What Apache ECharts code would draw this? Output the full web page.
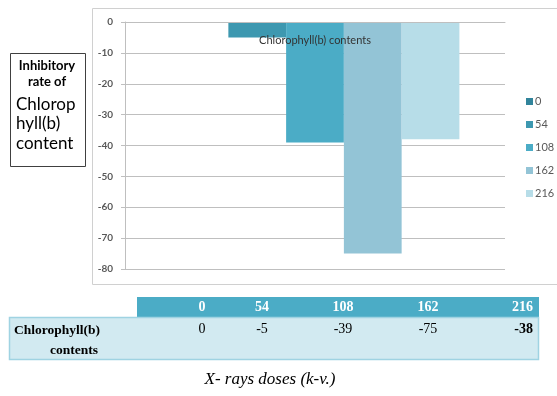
<!DOCTYPE html>
<html><head><meta charset="utf-8">
<script src="https://cdn.jsdelivr.net/npm/echarts@6/dist/echarts.min.js"></script>
<style>html,body{margin:0;padding:0;background:#fff}#c{width:557px;height:396px}</style>
</head><body><div id="c"></div>
<script>
const categories = ['Chlorophyll(b) contents'];
const doses = ['0', '54', '108', '162', '216'];
const values = [0, -5, -39, -75, -38];
const yTicks = [0, -10, -20, -30, -40, -50, -60, -70, -80];
const rowLabel = ['Chlorophyll(b)', 'contents'];
const xTitle = 'X- rays doses (k-v.)';
const yTitle = ['Inhibitory', 'rate of', 'Chlorop', 'hyll(b)', 'content'];

const colors = ['#31849B', '#3D98B0', '#4BACC6', '#93C4D6', '#B7DDE8'];
const colX = [202, 262, 343, 428, 533];

const chart = echarts.init(document.getElementById('c'));
const series = doses.map((d, i) => ({
  name: d, type: 'bar', data: [values[i]],
  barGap: '0%', barCategoryGap: '24%',
  itemStyle: { color: colors[i] }
}));

const graphic = [
  { type: 'rect', shape: { x: 92.5, y: 8.5, width: 470, height: 276 }, style: { fill: 'none', stroke: '#D0D0D0', lineWidth: 1 }, z: -1 },
  { type: 'rect', shape: { x: 10.5, y: 53.5, width: 75, height: 113 }, style: { fill: '#fff', stroke: '#404040', lineWidth: 1 } },
  { type: 'text', style: { x: 47, y: 59, text: yTitle[0], fill: '#000', font: 'bold 13px Lato', align: 'center' } },
  { type: 'text', style: { x: 47, y: 75, text: yTitle[1], fill: '#000', font: 'bold 13px Lato', align: 'center' } },
  { type: 'text', style: { x: 16, y: 96, text: yTitle[2], fill: '#000', font: '17px Lato', align: 'left' } },
  { type: 'text', style: { x: 16, y: 115, text: yTitle[3], fill: '#000', font: '17px Lato', align: 'left' } },
  { type: 'text', style: { x: 16, y: 135, text: yTitle[4], fill: '#000', font: '17px Lato', align: 'left' } },
  // table
  { type: 'rect', shape: { x: 137, y: 297, width: 402, height: 20 }, style: { fill: '#4BACC6' } },
  { type: 'rect', shape: { x: 9.5, y: 317.5, width: 529, height: 42 }, style: { fill: '#D2EAF1', stroke: '#9FD3E2', lineWidth: 1.5 } },
  { type: 'text', style: { x: 57, y: 324, text: rowLabel[0], fill: '#000', font: 'bold 13.5px "Liberation Serif"', align: 'center' } },
  { type: 'text', style: { x: 74, y: 344, text: rowLabel[1], fill: '#000', font: 'bold 13.5px "Liberation Serif"', align: 'center' } },
  { type: 'text', style: { x: 270, y: 371, text: xTitle, fill: '#000', font: 'italic 17px "Liberation Serif"', align: 'center' } }
];
doses.forEach((d, i) => {
  const last = i === doses.length - 1;
  graphic.push({ type: 'text', style: { x: colX[i], y: 300, text: d, fill: '#fff', font: 'bold 14px "Liberation Serif"', align: last ? 'right' : 'center' } });
  graphic.push({ type: 'text', style: { x: colX[i], y: 322, text: String(values[i]), fill: '#000', font: (last ? 'bold ' : '') + '14px "Liberation Serif"', align: last ? 'right' : 'center' } });
});

chart.setOption({
  animation: false,
  color: colors,
  grid: { left: 125, right: 52, top: 22, bottom: 127, containLabel: false },
  legend: {
    orient: 'vertical', left: 521, top: 91, itemWidth: 7, itemHeight: 7, itemGap: 12,
    icon: 'rect', data: doses,
    textStyle: { fontSize: 11, color: '#595959', fontFamily: 'Lato', padding: [0, 0, 0, -3] }
  },
  xAxis: {
    type: 'category', data: categories, z: 10, position: 'top',
    axisLine: { lineStyle: { color: '#BFBFBF' } },
    axisTick: { show: false },
    axisLabel: { inside: true, margin: 13, fontSize: 11, color: '#333333', fontFamily: 'Lato' }
  },
  yAxis: {
    type: 'value', min: -80, max: 0, interval: 10,
    axisLine: { show: true, lineStyle: { color: '#BFBFBF' } },
    axisTick: { show: true, length: 4, lineStyle: { color: '#BFBFBF' } },
    axisLabel: { fontSize: 10, color: '#595959', fontWeight: 'bold', fontFamily: 'Lato', margin: 12,
      formatter: v => yTicks.includes(v) ? String(v) : '' },
    splitLine: { lineStyle: { color: '#BFBFBF' } }
  },
  series: series,
  graphic: graphic
});
</script></body></html>
